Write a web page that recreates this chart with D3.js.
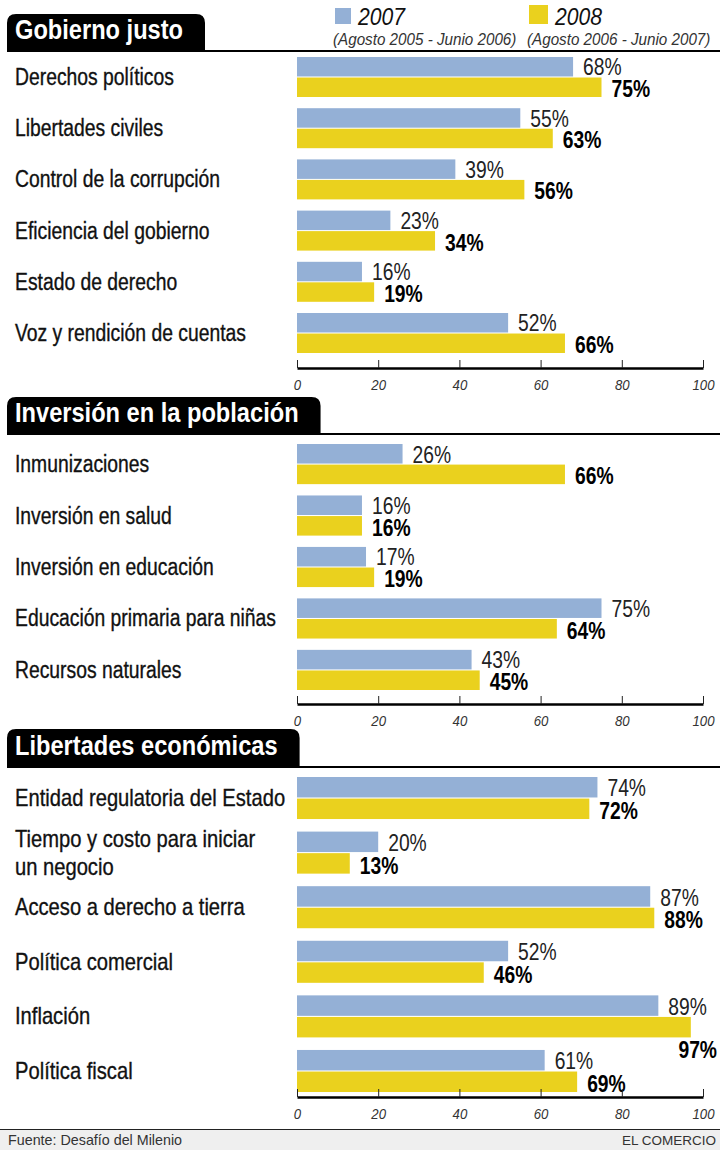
<!DOCTYPE html>
<html>
<head>
<meta charset="utf-8">
<script src="https://cdn.jsdelivr.net/npm/d3@7"></script>
<style>
body { margin: 0; background: #fff; }
svg text { font-family: "Liberation Sans", Arial, sans-serif; }
</style>
</head>
<body>
<div id="chart"></div>
<script>
// Data
const SERIES = ["2007", "2008"];
const SERIES_SUB = ["(Agosto 2005 - Junio 2006)", "(Agosto 2006 - Junio 2007)"];
const TICKS = [0, 20, 40, 60, 80, 100];

const GOB_TITLE = "Gobierno justo";
const GOB_CATS = ["Derechos políticos", "Libertades civiles", "Control de la corrupción",
  "Eficiencia del gobierno", "Estado de derecho", "Voz y rendición de cuentas"];
const GOB_2007 = [68, 55, 39, 23, 16, 52];
const GOB_2008 = [75, 63, 56, 34, 19, 66];

const INV_TITLE = "Inversión en la población";
const INV_CATS = ["Inmunizaciones", "Inversión en salud", "Inversión en educación",
  "Educación primaria para niñas", "Recursos naturales"];
const INV_2007 = [26, 16, 17, 75, 43];
const INV_2008 = [66, 16, 19, 64, 45];

const ECO_TITLE = "Libertades económicas";
const ECO_CATS = ["Entidad regulatoria del Estado", "Tiempo y costo para iniciar\nun negocio",
  "Acceso a derecho a tierra", "Política comercial", "Inflación", "Política fiscal"];
const ECO_2007 = [74, 20, 87, 52, 89, 61];
const ECO_2008 = [72, 13, 88, 46, 97, 69];

const SOURCE = "Fuente: Desafío del Milenio";
const CREDIT = "EL COMERCIO";

const COLORS = { "2007": "#94b0d6", "2008": "#ead11e" };

const svgWidth = 720;
const svgHeight = 1150;

// no condensed font installed, so squeeze text horizontally
function squeeze(sel, k) {
  sel.each(function () {
    const w = this.getComputedTextLength();
    d3.select(this)
      .attr("textLength", w * k)
      .attr("lengthAdjust", "spacingAndGlyphs");
  });
  return sel;
}

const svg = d3.select("#chart")
  .append("svg")
  .attr("width", svgWidth)
  .attr("height", svgHeight);

const scaleX = d3.scaleLinear()
  .domain([0, 100])
  .range([297, 703]);

// layout of each block
const sections = [
  { title: GOB_TITLE, cats: GOB_CATS, a: GOB_2007, b: GOB_2008, labelSize: 23,
    boxTop: 14, boxBottom: 50, rows: [57, 353], pad: 0.219, axisY: 368 },
  { title: INV_TITLE, cats: INV_CATS, a: INV_2007, b: INV_2008, labelSize: 23,
    boxTop: 397, boxBottom: 433, rows: [444, 690], pad: 0.22, axisY: 704 },
  { title: ECO_TITLE, cats: ECO_CATS, a: ECO_2007, b: ECO_2008, labelSize: 24,
    boxTop: 729, boxBottom: 766, rows: [777, 1092], pad: 0.23, axisY: 1097 }
];

const LABEL_K = 0.84;

sections.forEach(sec => {
  const g = svg.append("g");

  // header tab
  const title = g.append("text")
    .attr("x", 15)
    .attr("y", sec.boxBottom - 11)
    .attr("font-size", 27)
    .attr("font-weight", 700)
    .attr("fill", "#fff")
    .text(sec.title);
  squeeze(title, 0.875);
  const tw = +title.attr("textLength");
  const x0 = 7, x1 = 15 + tw + 22, r = 9;
  g.insert("path", "text")
    .attr("d", `M${x0},${sec.boxBottom} V${sec.boxTop + r} Q${x0},${sec.boxTop} ${x0 + r},${sec.boxTop}
      H${x1 - r} Q${x1},${sec.boxTop} ${x1},${sec.boxTop + r} V${sec.boxBottom} Z`)
    .attr("fill", "#000");
  g.append("line")
    .attr("x1", 7).attr("x2", 720)
    .attr("y1", sec.boxBottom + 1).attr("y2", sec.boxBottom + 1)
    .attr("stroke", "#000")
    .attr("stroke-width", 2.2);

  const data = sec.cats.map((c, i) => ({ label: c, values: [
    { key: "2007", value: sec.a[i] }, { key: "2008", value: sec.b[i] }] }));

  const scaleY = d3.scaleBand()
    .domain(sec.cats)
    .range(sec.rows)
    .paddingInner(sec.pad)
    .paddingOuter(0);

  const scaleSub = d3.scaleBand()
    .domain(SERIES)
    .range([0, scaleY.bandwidth()])
    .paddingInner(0.05);

  // category labels
  data.forEach(d => {
    const cy = scaleY(d.label) + scaleY.bandwidth() / 2;
    const lines = d.label.split("\n");
    const lh = 28;
    const firstY = cy + 8 - (lines.length - 1) * lh / 2;
    lines.forEach((l, k) => {
      const t = g.append("text")
        .attr("x", 15)
        .attr("y", firstY + k * lh)
        .attr("font-size", sec.labelSize)
        .attr("fill", "#111")
        .attr("stroke", "#111")
        .attr("stroke-width", 0.35)
        .text(l);
      squeeze(t, LABEL_K);
    });
  });

  // bars
  const rowG = g.selectAll(".row")
    .data(data)
    .enter()
    .append("g")
    .attr("transform", d => `translate(0,${scaleY(d.label)})`);

  rowG.selectAll("rect")
    .data(d => d.values)
    .enter()
    .append("rect")
    .attr("x", scaleX(0))
    .attr("y", v => scaleSub(v.key))
    .attr("width", v => scaleX(v.value) - scaleX(0))
    .attr("height", scaleSub.bandwidth())
    .attr("fill", v => COLORS[v.key]);

  // value labels
  const vals = rowG.selectAll(".val")
    .data(d => d.values)
    .enter()
    .append("text")
    .attr("class", "val")
    .attr("font-size", 23.5)
    .attr("font-weight", v => v.key === "2008" ? 700 : 400)
    .attr("fill", v => v.key === "2008" ? "#000" : "#222")
    .attr("x", v => scaleX(v.value) + 10)
    .attr("y", v => scaleSub(v.key) + scaleSub.bandwidth() - (v.key === "2008" ? 0 : 1))
    .text(v => v.value + "%");
  squeeze(vals, 0.82);
  // a label that would run past the right edge goes under its bar
  vals.each(function (v) {
    const w = +this.getAttribute("textLength");
    if (scaleX(v.value) + 10 + w > 718) {
      d3.select(this)
        .attr("x", 717 - w)
        .attr("y", scaleSub(v.key) + scaleSub.bandwidth() + 21);
    }
  });

  // axis
  const axis = g.append("g")
    .attr("transform", `translate(0,${sec.axisY})`)
    .call(d3.axisBottom(scaleX).tickValues(TICKS).tickSize(-8).tickSizeOuter(0).tickPadding(0));
  axis.select(".domain")
    .attr("stroke", "#000")
    .attr("stroke-width", 2.7);
  axis.selectAll(".tick line")
    .attr("stroke", "#222")
    .attr("stroke-width", 1);
  const tickText = axis.selectAll(".tick text")
    .attr("y", 22)
    .attr("dy", 0)
    .attr("font-size", 15)
    .attr("font-style", "italic")
    .attr("font-family", null)
    .attr("fill", "#333");
  squeeze(tickText, 0.88);
});

// legend
const legend = svg.append("g");
const legX = [335, 529];
SERIES.forEach((s, i) => {
  legend.append("rect")
    .attr("x", legX[i])
    .attr("y", i === 0 ? 8 : 5)
    .attr("width", i === 0 ? 16 : 19)
    .attr("height", i === 0 ? 16 : 19)
    .attr("fill", COLORS[s]);
  const yr = legend.append("text")
    .attr("x", legX[i] + (i === 0 ? 23 : 26))
    .attr("y", 25)
    .attr("font-size", 24)
    .attr("font-style", "italic")
    .attr("fill", "#111")
    .text(s);
  squeeze(yr, 0.88);
  const sub = legend.append("text")
    .attr("x", legX[i] - 2)
    .attr("y", 45)
    .attr("font-size", 16)
    .attr("font-style", "italic")
    .attr("fill", "#333")
    .text(SERIES_SUB[i]);
  squeeze(sub, 0.95);
});

// footer
svg.append("rect")
  .attr("x", 0).attr("y", 1130)
  .attr("width", svgWidth).attr("height", 20)
  .attr("fill", "#efefef");
svg.append("line")
  .attr("x1", 0).attr("x2", svgWidth)
  .attr("y1", 1129.5).attr("y2", 1129.5)
  .attr("stroke", "#222").attr("stroke-width", 1.2);
svg.append("text")
  .attr("x", 8).attr("y", 1145)
  .attr("font-size", 14.3)
  .attr("fill", "#333")
  .text(SOURCE);
svg.append("text")
  .attr("x", 716).attr("y", 1145)
  .attr("text-anchor", "end")
  .attr("font-size", 13.5)
  .attr("fill", "#333")
  .text(CREDIT);
</script>
</body>
</html>
